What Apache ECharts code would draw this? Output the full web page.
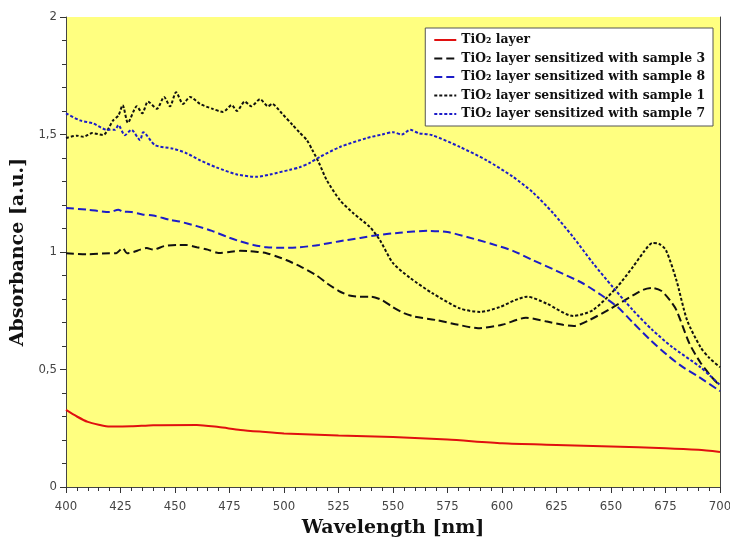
<!DOCTYPE html>
<html>
<head>
<meta charset="utf-8">
<script src="https://cdn.jsdelivr.net/npm/echarts@6/dist/echarts.min.js"></script>
<style>
  html, body { margin: 0; padding: 0; background: #fff; }
  #chart { width: 730px; height: 540px; }
</style>
</head>
<body>
<div id="chart"></div>
<script>
// values, [wavelength nm, absorbance]
let tio2Layer = [[400,0.328],[405,0.30],[410,0.277],[415,0.265],[420,0.257],[430,0.258],[440,0.263],[460,0.264],
  [470,0.255],[480,0.243],[490,0.235],[500,0.228],[525,0.219],[550,0.213],[575,0.202],[600,0.186],
  [625,0.179],[650,0.172],[675,0.165],[690,0.158],[700,0.149]];

let sample3 = [[400,0.995],[410,0.99],[420,0.995],[423,0.995],[426,1.017],[428,0.995],[431,1.0],[434,1.01],
  [437,1.017],[440,1.01],[445,1.025],[451,1.03],[455,1.03],[460,1.02],[465,1.01],[470,0.996],[475,1.0],
  [480,1.005],[484,1.004],[488,1.0],[492,0.995],[497,0.98],[501,0.966],[508,0.936],[515,0.90],[520,0.865],
  [525,0.835],[530,0.815],[535,0.81],[540,0.81],[545,0.795],[550,0.765],[555,0.74],[560,0.725],[570,0.71],
  [580,0.69],[589,0.676],[600,0.69],[611,0.72],[620,0.705],[628,0.69],[633,0.685],[640,0.71],[650,0.76],
  [660,0.815],[665,0.84],[669,0.847],[673,0.835],[677,0.795],[680,0.753],[686,0.61],[691,0.53],[696,0.47],[700,0.43]];

let sample8 = [[400,1.187],[410,1.18],[420,1.17],[424,1.18],[426,1.172],[430,1.17],[435,1.16],[440,1.155],
  [448,1.136],[452,1.13],[460,1.11],[467,1.09],[474,1.064],[480,1.045],[486,1.03],[492,1.02],[500,1.018],
  [507,1.02],[516,1.03],[525,1.045],[535,1.06],[543,1.072],[553,1.082],[566,1.09],[575,1.085],[584,1.064],
  [595,1.035],[605,1.005],[614,0.966],[625,0.92],[637,0.867],[645,0.82],[653,0.766],[660,0.70],[668,0.626],
  [676,0.56],[683,0.51],[690,0.47],[700,0.408]];

let sample1 = [[400,1.485],[405,1.495],[408,1.49],[412,1.506],[417,1.498],[421.6,1.56],[424,1.58],[426,1.625],
  [428.4,1.55],[432.5,1.62],[435,1.59],[437.6,1.64],[441.7,1.61],[445,1.66],[447.7,1.62],[450.5,1.68],
  [453.7,1.63],[456.9,1.66],[461.5,1.63],[467,1.61],[472,1.596],[476,1.625],[478.4,1.60],[482,1.64],[485,1.62],
  [489,1.65],[492.7,1.62],[494.5,1.63],[499,1.59],[504,1.54],[507,1.51],[510.5,1.476],[513,1.434],[516,1.38],
  [519.6,1.306],[525.7,1.22],[531.7,1.166],[539.4,1.106],[544,1.05],[550,0.953],[557.8,0.89],[568,0.825],
  [580.7,0.76],[590,0.745],[599,0.766],[606,0.795],[611.5,0.81],[620.6,0.78],[632.6,0.728],[641.7,0.753],
  [652.7,0.85],[660,0.936],[665,1.0],[669,1.038],[672,1.035],[675.2,1.008],[680,0.88],[684.9,0.71],[691,0.596],
  [695,0.55],[700,0.51]];

let sample7 = [[400,1.59],[406.4,1.56],[412.5,1.547],[418.8,1.52],[422.5,1.52],[424,1.54],[427,1.497],[430,1.52],
  [434,1.476],[435.4,1.51],[440.8,1.455],[449,1.44],[455.4,1.42],[461.5,1.39],[469,1.36],[478.4,1.33],
  [487.6,1.32],[493.6,1.33],[502.8,1.35],[507,1.36],[512,1.38],[516.5,1.405],[525.7,1.447],[538,1.485],
  [545,1.50],[550,1.51],[554,1.50],[557.8,1.52],[562,1.505],[568,1.497],[580.7,1.447],[593,1.39],[605,1.32],
  [614,1.255],[623.4,1.166],[632.6,1.064],[641.7,0.953],[650.9,0.85],[660,0.753],[669,0.668],[678,0.596],
  [691,0.51],[700,0.434]];

let names = ['TiO₂ layer','TiO₂ layer sensitized with sample 3','TiO₂ layer sensitized with sample 8',
  'TiO₂ layer sensitized with sample 1','TiO₂ layer sensitized with sample 7'];

let serif = "'DejaVu Serif', 'Liberation Serif', serif";
let sans = "'DejaVu Sans Condensed', 'DejaVu Sans', sans-serif";

function line(name, data, color, type) {
  return {
    name: name, type: 'line', data: data, symbol: 'none', smooth: 0.25,
    xAxisIndex: 0, yAxisIndex: 0,
    lineStyle: { color: color, width: 2, type: type }, itemStyle: { color: color },
    animation: false
  };
}

let tick = { color: '#333', width: 1 };

let chart = echarts.init(document.getElementById('chart'));
chart.setOption({
  backgroundColor: '#fff',
  animation: false,
  grid: { left: 66, right: 10, top: 17, bottom: 53, outerBoundsMode: 'none',
    show: true, backgroundColor: '#ffff80', borderWidth: 0 },
  legend: {
    orient: 'vertical', right: 17, top: 28,
    backgroundColor: '#fff', borderColor: '#555', borderWidth: 1, padding: [6, 8, 6, 8],
    itemWidth: 22, itemHeight: 11, itemGap: 6.5,
    itemStyle: { opacity: 0 },
    textStyle: { fontFamily: serif, fontWeight: 'bold', fontSize: 12.4, color: '#111' },
    data: names
  },
  xAxis: [{
    type: 'value', min: 400, max: 700, interval: 25, position: 'bottom',
    name: 'Wavelength [nm]', nameLocation: 'middle', nameGap: 32,
    nameTextStyle: { fontFamily: serif, fontWeight: 'bold', fontSize: 19, color: '#111' },
    axisLine: { show: true, onZero: false, lineStyle: { color: '#444', width: 1 } },
    axisTick: { show: true, inside: false, length: 6, lineStyle: tick },
    minorTick: { show: true, splitNumber: 5, length: 4, lineStyle: tick },
    axisLabel: { fontFamily: sans, fontSize: 13, color: '#444', margin: 13 },
    splitLine: { show: false }
  }, {
    // tick-only twin of the wavelength axis
    type: 'value', min: 400, max: 700, interval: 25, position: 'bottom',
    axisLine: { show: false, onZero: false },
    axisTick: { show: true, inside: false, length: 6, lineStyle: tick },
    minorTick: { show: true, splitNumber: 5, length: 4, lineStyle: tick },
    axisLabel: { show: false },
    splitLine: { show: false }
  }],
  yAxis: [{
    type: 'value', min: 0, max: 2, interval: 0.5,
    name: 'Absorbance [a.u.]', nameLocation: 'middle', nameGap: 36,
    nameTextStyle: { fontFamily: serif, fontWeight: 'bold', fontSize: 19, color: '#111' },
    axisLine: { show: true, onZero: false, lineStyle: { color: '#444', width: 1 } },
    axisTick: { show: true, inside: false, length: 6, lineStyle: tick },
    minorTick: { show: true, splitNumber: 5, length: 4, lineStyle: tick },
    axisLabel: { fontFamily: sans, fontSize: 13, color: '#444', margin: 9,
      formatter: v => String(v).replace('.', ',') },
    splitLine: { show: false }
  }, {
    type: 'value', min: 0, max: 2, interval: 0.5, position: 'right',
    axisLine: { show: true, onZero: false, lineStyle: { color: '#444', width: 1 } },
    axisTick: { show: false }, axisLabel: { show: false }, splitLine: { show: false }
  }],
  series: [
    line(names[0], tio2Layer, '#e01010', 'solid'),
    line(names[1], sample3, '#111', [8, 4]),
    line(names[2], sample8, '#1c1cc8', [8, 4]),
    line(names[3], sample1, '#111', [3, 2]),
    line(names[4], sample7, '#1c1cc8', [3, 2])
  ]
});
</script>
</body>
</html>
